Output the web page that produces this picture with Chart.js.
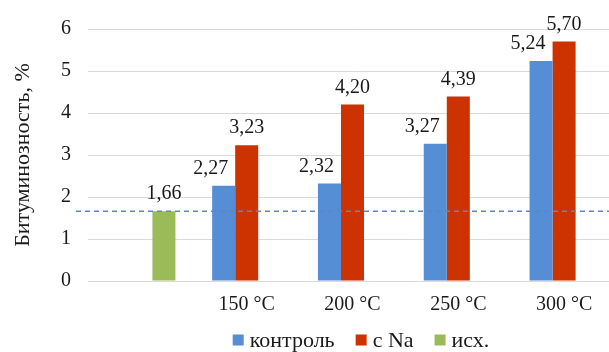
<!DOCTYPE html>
<html lang="ru">
<head>
<meta charset="utf-8">
<title>Битуминозность</title>
<script src="https://cdn.jsdelivr.net/npm/chart.js@4.4.1/dist/chart.umd.min.js"></script>
<style>
  html, body { margin: 0; padding: 0; background: #fff; overflow: hidden; }
  #wrap { position: relative; width: 620px; height: 352px; }
</style>
</head>
<body>
<div id="wrap"><canvas id="chart"></canvas></div>
<script>
// Categories (first slot holds the initial sample only)
const categories = ['', '150 °C', '200 °C', '250 °C', '300 °C'];
// Bitumen content, %
const control = [null, 2.27, 2.32, 3.27, 5.24];
const withNa  = [null, 3.23, 4.20, 4.39, 5.70];
const initial = [1.66, null, null, null, null];
// Reference level of the initial sample
const baseline = 1.66;
const yTicks = [0, 1, 2, 3, 4, 5, 6];

const SERIF = "'Liberation Serif', 'Times New Roman', serif";
const TEXT = '#1a1a1a';

// Dashed reference line across the plot
const baselinePlugin = {
  id: 'baselineLine',
  afterDatasetsDraw(chart) {
    const { ctx, chartArea, scales } = chart;
    const y = scales.y.getPixelForValue(baseline);
    ctx.save();
    ctx.strokeStyle = '#5B87C5';
    ctx.lineWidth = 1.5;
    ctx.setLineDash([5, 4]);
    ctx.beginPath();
    ctx.moveTo(chartArea.left - 12, y);
    ctx.lineTo(chartArea.right, y);
    ctx.stroke();
    ctx.restore();
  }
};

// Value labels above the bars (comma decimal separator)
const labelShift = [-13, 0, 0];
const valueLabelPlugin = {
  id: 'valueLabels',
  afterDatasetsDraw(chart) {
    const { ctx } = chart;
    ctx.save();
    ctx.font = '20px ' + SERIF;
    ctx.fillStyle = TEXT;
    ctx.textAlign = 'center';
    ctx.textBaseline = 'alphabetic';
    chart.data.datasets.forEach((ds, i) => {
      const meta = chart.getDatasetMeta(i);
      meta.data.forEach((bar, j) => {
        const v = ds.data[j];
        if (v === null || v === undefined) return;
        const txt = v.toFixed(2).replace('.', ',');
        ctx.fillText(txt, bar.x + labelShift[i], bar.y - 12);
      });
    });
    ctx.restore();
  }
};

// Legend row under the axis: square swatch, label, centred block
const legendRow = {
  id: 'legendRow',
  afterDraw(chart) {
    const { ctx } = chart;
    const box = 11, gapText = 6, gapItem = 21, centerX = 361, centerY = 340;
    ctx.save();
    ctx.font = '22px ' + SERIF;
    ctx.textBaseline = 'middle';
    ctx.textAlign = 'left';
    const items = chart.data.datasets.map(ds => ({
      text: ds.label, color: ds.backgroundColor, w: ctx.measureText(ds.label).width
    }));
    const total = items.reduce((s, it) => s + box + gapText + it.w, 0) + gapItem * (items.length - 1);
    let x = centerX - total / 2;
    items.forEach(it => {
      ctx.fillStyle = it.color;
      ctx.fillRect(x, centerY - box / 2, box, box);
      x += box + gapText;
      ctx.fillStyle = TEXT;
      ctx.fillText(it.text, x, centerY + 1);
      x += it.w + gapItem;
    });
    ctx.restore();
  }
};

new Chart(document.getElementById('chart'), {
  type: 'bar',
  data: {
    labels: categories,
    datasets: [
      { label: 'контроль', data: control, backgroundColor: '#558ED5' },
      { label: 'с Na', data: withNa, backgroundColor: '#CC3300' },
      { label: 'исх.', data: initial, backgroundColor: '#9BBB59' }
    ]
  },
  options: {
    responsive: true,
    maintainAspectRatio: false,
    animation: false,
    devicePixelRatio: 1,
    categoryPercentage: 0.653,
    barPercentage: 1.0,
    layout: { padding: { top: 28, left: 0, right: 3, bottom: 0 } },
    plugins: {
      tooltip: { enabled: false },
      legend: { display: false }
    },
    scales: {
      x: {
        grid: { display: false, drawTicks: false },
        border: { display: false },
        ticks: { font: { family: SERIF, size: 20 }, color: TEXT, padding: 12 },
        afterFit(scale) { scale.height = 71; }
      },
      y: {
        min: 0,
        max: 6,
        afterBuildTicks(scale) { scale.ticks = yTicks.map(v => ({ value: v })); },
        grid: { color: '#D9D9D9', lineWidth: 1, drawTicks: false },
        border: { display: false },
        ticks: { font: { family: SERIF, size: 20 }, color: TEXT, padding: 17 },
        title: {
          display: true,
          text: 'Битуминозность, %',
          font: { family: SERIF, size: 22 },
          color: TEXT,
          padding: { top: 10, bottom: 0 }
        },
        afterFit(scale) { scale.width = 88; }
      }
    }
  },
  plugins: [baselinePlugin, valueLabelPlugin, legendRow]
});
</script>
</body>
</html>
